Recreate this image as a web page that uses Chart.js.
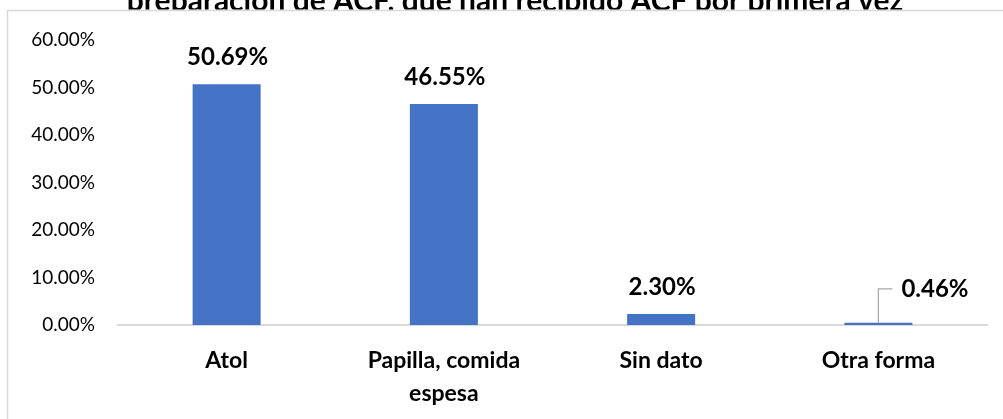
<!DOCTYPE html>
<html>
<head>
<meta charset="utf-8">
<script src="https://cdn.jsdelivr.net/npm/chart.js@4"></script>
<style>
  html, body { margin: 0; padding: 0; background: #fff; }
  #wrap { position: relative; width: 1003px; height: 419px; }
</style>
</head>
<body>
<div id="wrap"><canvas id="grafico"></canvas></div>
<script>
const titulo = 'preparación de ACF, que han recibido ACF por primera vez';
const categorias = ['Atol', ['Papilla, comida', 'espesa'], 'Sin dato', 'Otra forma'];
const porcentajes = [50.69, 46.55, 2.30, 0.46];
const etiquetaConGuia = [false, false, false, true];
const ejeMax = 60;
const ejePaso = 10;

const fuente = 'Lato, "Open Sans", sans-serif';

// borde del grafico y titulo recortado
const marcoPlugin = {
  id: 'marco',
  beforeDraw(chart) {
    const ctx = chart.ctx;
    ctx.save();
    ctx.strokeStyle = '#d9d9d9';
    ctx.lineWidth = 1.5;
    ctx.strokeRect(7.5, 10.5, chart.width + 50, chart.height + 50);

    ctx.beginPath();
    ctx.rect(0, 0, chart.width, 9.5);
    ctx.clip();
    ctx.fillStyle = '#000';
    ctx.font = 'bold 30px ' + fuente;
    ctx.textAlign = 'center';
    ctx.textBaseline = 'alphabetic';
    ctx.fillText(titulo, 515, 11);
    ctx.restore();
  }
};

const etiquetasPlugin = {
  id: 'etiquetas',
  afterDatasetsDraw(chart) {
    const ctx = chart.ctx;
    const meta = chart.getDatasetMeta(0);
    ctx.save();
    ctx.fillStyle = '#000';
    ctx.font = 'bold 24px ' + fuente;
    ctx.textBaseline = 'alphabetic';
    meta.data.forEach((barra, i) => {
      const texto = porcentajes[i].toFixed(2) + '%';
      if (etiquetaConGuia[i]) {
        ctx.strokeStyle = '#a6a6a6';
        ctx.lineWidth = 1.2;
        ctx.beginPath();
        ctx.moveTo(barra.x, barra.y);
        ctx.lineTo(barra.x, barra.y - 34);
        ctx.lineTo(barra.x + 14, barra.y - 34);
        ctx.stroke();
        ctx.textAlign = 'left';
        ctx.fillText(texto, barra.x + 23, barra.y - 26);
      } else {
        ctx.textAlign = 'center';
        ctx.fillText(texto, barra.x + 1, barra.y - 19);
      }
    });
    ctx.restore();
  }
};

const ctx = document.getElementById('grafico').getContext('2d');
new Chart(ctx, {
  type: 'bar',
  data: {
    labels: categorias,
    datasets: [{
      data: porcentajes,
      backgroundColor: '#4472c4',
      borderWidth: 0,
      barPercentage: 0.313,
      categoryPercentage: 1
    }]
  },
  options: {
    responsive: true,
    maintainAspectRatio: false,
    animation: false,
    layout: { padding: { top: 40, right: 16, bottom: 0, left: 0 } },
    plugins: { legend: { display: false }, tooltip: { enabled: false } },
    scales: {
      x: {
        grid: { display: false, drawTicks: false },
        border: { display: true, color: '#d9d9d9', width: 2 },
        ticks: {
          color: '#000',
          padding: 19,
          font: { family: fuente, size: 23, weight: 'bold', lineHeight: 1.45 }
        },
        afterFit(escala) { escala.height = 94; }
      },
      y: {
        min: 0,
        max: ejeMax,
        grid: { display: false, drawTicks: false },
        border: { display: false },
        ticks: {
          stepSize: ejePaso,
          color: '#000',
          padding: 23,
          font: { family: fuente, size: 19 },
          callback: v => v.toFixed(2) + '%'
        },
        afterFit(escala) { escala.width = 118; }
      }
    }
  },
  plugins: [marcoPlugin, etiquetasPlugin]
});
</script>
</body>
</html>
